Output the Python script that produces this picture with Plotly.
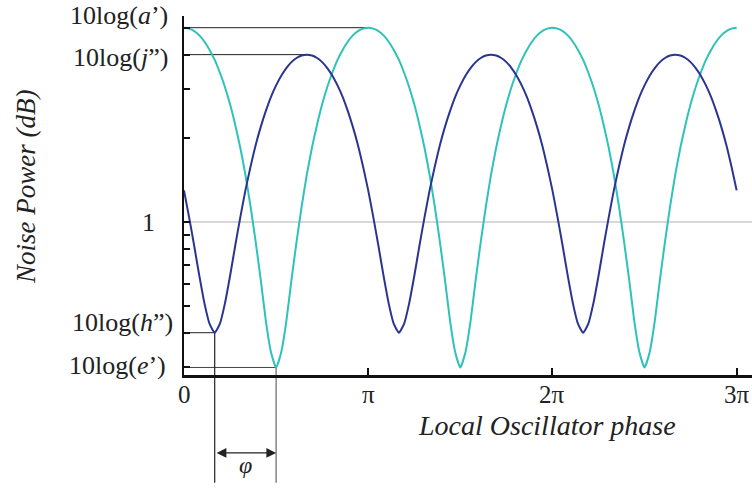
import numpy as np
import plotly.graph_objects as go

# local oscillator phase, degrees (0 .. 3 pi)
phase_deg = list(range(0, 545, 5))

# noise power (linear units), one row per half turn
power_cyan = [
    5.00, 4.96, 4.86, 4.69, 4.45, 4.16, 3.83, 3.45, 3.06, 2.65, 2.24, 1.85,
    1.48, 1.14, 0.85, 0.62, 0.44, 0.34, 0.30, 0.34, 0.44, 0.62, 0.85, 1.14,
    1.48, 1.85, 2.24, 2.65, 3.06, 3.45, 3.83, 4.16, 4.45, 4.69, 4.86, 4.96,
    5.00, 4.96, 4.86, 4.69, 4.45, 4.16, 3.83, 3.45, 3.06, 2.65, 2.24, 1.85,
    1.48, 1.14, 0.85, 0.62, 0.44, 0.34, 0.30, 0.34, 0.44, 0.62, 0.85, 1.14,
    1.48, 1.85, 2.24, 2.65, 3.06, 3.45, 3.83, 4.16, 4.45, 4.69, 4.86, 4.96,
    5.00, 4.96, 4.86, 4.69, 4.45, 4.16, 3.83, 3.45, 3.06, 2.65, 2.24, 1.85,
    1.48, 1.14, 0.85, 0.62, 0.44, 0.34, 0.30, 0.34, 0.44, 0.62, 0.85, 1.14,
    1.48, 1.85, 2.24, 2.65, 3.06, 3.45, 3.83, 4.16, 4.45, 4.69, 4.86, 4.96,
    5.00,
]
power_blue = [
    1.30, 1.04, 0.82, 0.64, 0.51, 0.43, 0.40, 0.43, 0.51, 0.64, 0.82, 1.04,
    1.30, 1.58, 1.89, 2.20, 2.51, 2.82, 3.10, 3.36, 3.58, 3.76, 3.89, 3.97,
    4.00, 3.97, 3.89, 3.76, 3.58, 3.36, 3.10, 2.82, 2.51, 2.20, 1.89, 1.58,
    1.30, 1.04, 0.82, 0.64, 0.51, 0.43, 0.40, 0.43, 0.51, 0.64, 0.82, 1.04,
    1.30, 1.58, 1.89, 2.20, 2.51, 2.82, 3.10, 3.36, 3.58, 3.76, 3.89, 3.97,
    4.00, 3.97, 3.89, 3.76, 3.58, 3.36, 3.10, 2.82, 2.51, 2.20, 1.89, 1.58,
    1.30, 1.04, 0.82, 0.64, 0.51, 0.43, 0.40, 0.43, 0.51, 0.64, 0.82, 1.04,
    1.30, 1.58, 1.89, 2.20, 2.51, 2.82, 3.10, 3.36, 3.58, 3.76, 3.89, 3.97,
    4.00, 3.97, 3.89, 3.76, 3.58, 3.36, 3.10, 2.82, 2.51, 2.20, 1.89, 1.58,
    1.30,
]

# marked levels: (label, value, phase where it is reached)
level_a = ("10log(<i>a</i>’)", 5.0, 180)
level_j = ("10log(<i>j</i>”)", 4.0, 120)
level_h = ("10log(<i>h</i>”)", 0.4, 30)
level_e = ("10log(<i>e</i>’)", 0.3, 90)

x_ticks = [0, 180, 360, 540]
x_ticktext = ["0", "π", "2π", "3π"]
y_minor = [0.5, 0.6, 0.7, 0.8, 0.9, 2, 3]

CYAN = "#2ec2ba"
BLUE = "#2a3592"
SERIF = "Liberation Serif"
INK = "#222"

y_lo, y_hi = -0.550, 0.741  # log10 range of the axis


def ypaper(v):
    return (np.log10(v) - y_lo) / (y_hi - y_lo)


fig = go.Figure()
fig.add_trace(go.Scatter(x=phase_deg, y=power_cyan, mode="lines",
                         line=dict(color=CYAN, width=2, shape="spline", smoothing=0.5),
                         showlegend=False))
fig.add_trace(go.Scatter(x=phase_deg, y=power_blue, mode="lines",
                         line=dict(color=BLUE, width=2, shape="spline", smoothing=0.5),
                         showlegend=False))

shapes = []
# light reference line at 1
shapes.append(dict(type="line", xref="paper", yref="paper", x0=0, x1=1,
                   y0=ypaper(1), y1=ypaper(1), layer="below",
                   line=dict(color="#d8d8d8", width=2)))
# horizontal guides from the axis to the extrema
for (lab, v, ph), col in [(level_a, "#222"), (level_j, "#222"),
                          (level_h, "#222"), (level_e, "#444")]:
    shapes.append(dict(type="line", xref="x", yref="paper", x0=0, x1=ph,
                       y0=ypaper(v), y1=ypaper(v), layer="below",
                       line=dict(color=col, width=1)))
# vertical drops at the two minima
for (lab, v, ph), col in [(level_h, "#222"), (level_e, "#666")]:
    shapes.append(dict(type="line", xref="x", yref="paper", x0=ph, x1=ph,
                       y0=ypaper(v), y1=-0.30, layer="below",
                       line=dict(color=col, width=1.2)))

annotations = []
# y labels
for (lab, v, ph), xs, ys in [(level_a, -14, 12), (level_j, -14, -3),
                             (level_h, -9, 10), (level_e, -16, 2)]:
    annotations.append(dict(text=lab, xref="paper", yref="y", x=0, y=np.log10(v),
                            xanchor="right", yanchor="middle", xshift=xs, yshift=ys,
                            showarrow=False, font=dict(family=SERIF, size=26, color=INK)))
annotations.append(dict(text="1", xref="paper", yref="y", x=0, y=0, xanchor="right",
                        yanchor="middle", xshift=-27, showarrow=False,
                        font=dict(family=SERIF, size=26, color=INK)))
# x tick labels
for xv, xt in zip(x_ticks, x_ticktext):
    annotations.append(dict(text=xt, xref="x", yref="paper", x=xv, y=-0.054,
                            xanchor="center", yanchor="middle", showarrow=False,
                            font=dict(family=SERIF, size=25, color=INK)))
# phase difference arrow
annotations.append(dict(text="", xref="x", yref="paper", x=level_e[2], y=-0.217,
                        axref="pixel", ayref="pixel", ax=-61, ay=0,
                        showarrow=True, arrowhead=2, arrowside="end+start",
                        arrowsize=1.5, arrowwidth=1.3, arrowcolor=INK))
annotations.append(dict(text="<i>φ</i>", xref="x", yref="paper",
                        x=(level_h[2] + level_e[2]) / 2, y=-0.251,
                        xanchor="center", yanchor="middle", showarrow=False,
                        font=dict(family=SERIF, size=24, color=INK)))
# axis titles
annotations.append(dict(text="<i>Noise Power (dB)</i>", xref="paper", yref="paper",
                        x=-0.278, y=0.524, xanchor="center", yanchor="middle",
                        textangle=-90, showarrow=False,
                        font=dict(family=SERIF, size=27, color=INK)))
annotations.append(dict(text="<i>Local Oscillator phase</i>", xref="paper", yref="paper",
                        x=0.639, y=-0.142, xanchor="center", yanchor="middle",
                        showarrow=False, font=dict(family=SERIF, size=28, color=INK)))

fig.update_layout(
    width=752, height=489,
    margin=dict(l=184, r=0, t=16, b=114),
    plot_bgcolor="white", paper_bgcolor="white",
    shapes=shapes, annotations=annotations,
)
fig.update_xaxes(range=[0, 555], showgrid=False, zeroline=False,
                 showline=True, linecolor="#111", linewidth=2.5,
                 ticks="inside", ticklen=7, tickwidth=1.5, tickcolor="#111",
                 tickvals=x_ticks, showticklabels=False)
fig.update_yaxes(type="log", range=[y_lo, y_hi], showgrid=False, zeroline=False,
                 showline=True, linecolor="#111", linewidth=2,
                 ticks="inside", ticklen=6, tickwidth=1.5, tickcolor="#111",
                 tickvals=y_minor + [level_a[1], level_j[1], 1, level_h[1], level_e[1]],
                 showticklabels=False)

# drop the default page margin so the figure sits at the window corner
fig.write_html("out.html", config={"displayModeBar": False},
               post_script="document.body.style.margin='0';")
